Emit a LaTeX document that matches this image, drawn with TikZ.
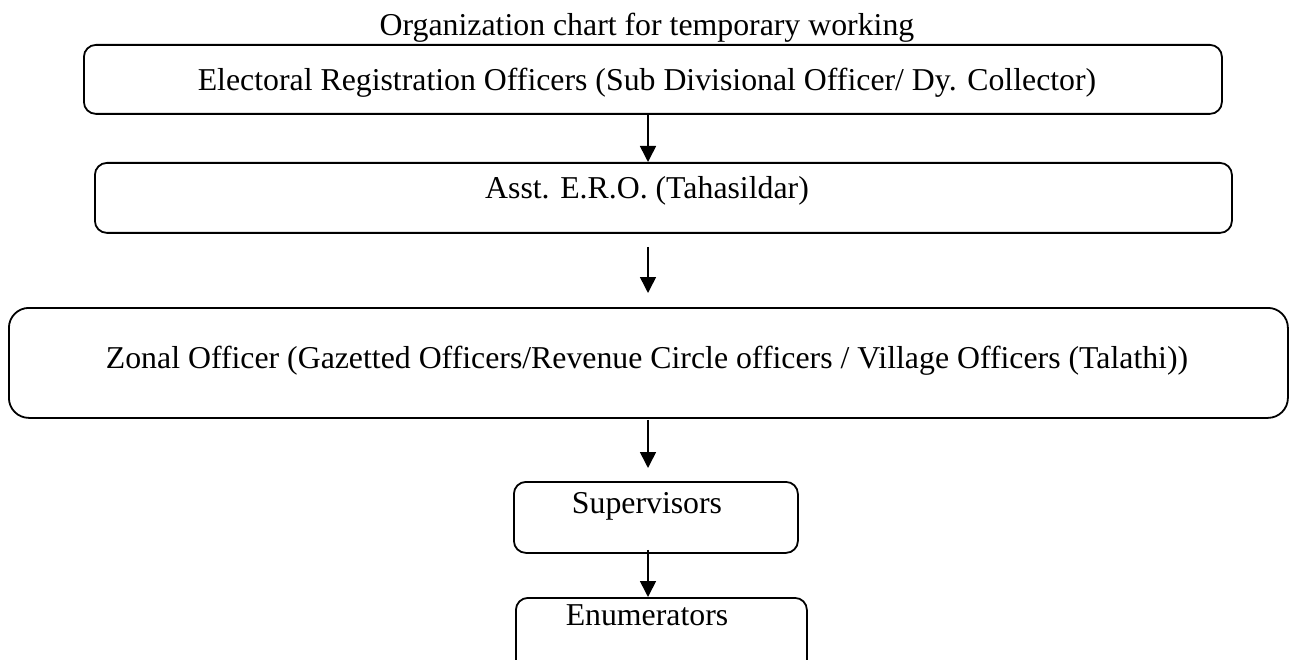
\documentclass[tikz,border=0pt]{standalone}
\usepackage{fontspec}
\setmainfont{Liberation Serif}
\usetikzlibrary{arrows.meta}
\begin{document}
\begin{tikzpicture}[x=1pt,y=-1pt,
  box/.style={draw, line width=1.8pt, rounded corners=12pt, inner sep=0pt, anchor=north west},
  lbl/.style={font=\fontsize{31.8}{36}\selectfont, inner sep=0pt, anchor=base},
  arr/.style={line width=1.6pt, -{Triangle[length=16pt,width=16pt]}}]
\useasboundingbox (0,0) rectangle (1292,660);
\clip (0,0) rectangle (1292,660);
\node[box, minimum width=1138pt, minimum height=69pt] (b1) at (83,44) {};
\node[box, minimum width=1137pt, minimum height=70pt] (b2) at (94,162) {};
\node[box, rounded corners=20pt, minimum width=1279pt, minimum height=110pt] (b3) at (8,307) {};
\node[box, minimum width=284pt, minimum height=71pt] (b4) at (513,481) {};
\node[box, minimum width=291pt, minimum height=100pt] (b5) at (515,597) {};
\node[lbl] (t0) at (647,36) {Organization chart for temporary working};
\node[lbl] (t1) at (647,91) {Electoral Registration Officers (Sub Divisional Officer/ Dy. Collector)};
\node[lbl] (t2) at (647,199) {Asst. E.R.O. (Tahasildar)};
\node[lbl] (t3) at (647,368) {Zonal Officer (Gazetted Officers/Revenue Circle officers / Village Officers (Talathi))};
\node[lbl] (t4) at (647,513) {Supervisors};
\node[lbl] (t5) at (647,625) {Enumerators};
\coordinate (ax) at (648,0);
\draw[arr] (b1.south -| ax) -- (b2.north -| ax);
\draw[arr, shorten <=13pt, shorten >=14pt] (b2.south -| ax) -- (b3.north -| ax);
\draw[arr, shorten <=1pt, shorten >=13pt] (b3.south -| ax) -- (b4.north -| ax);
\draw[arr, shorten <=-4pt] (b4.south -| ax) -- (b5.north -| ax);
\end{tikzpicture}
\end{document}
